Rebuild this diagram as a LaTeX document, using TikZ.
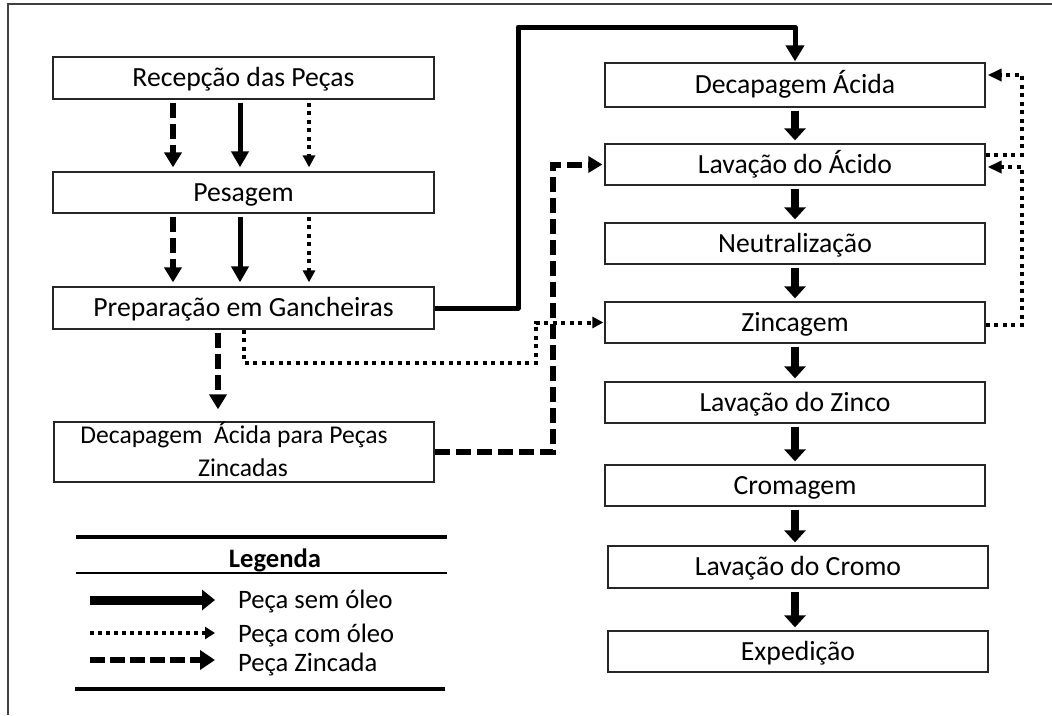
\documentclass[tikz,border=0pt]{standalone}
\usepackage{fontspec}
\setmainfont{Carlito}
\usetikzlibrary{arrows.meta,calc}
\begin{document}
\begin{tikzpicture}[x=1pt,y=-1pt,
  box/.style={draw=black!85, line width=1.3pt, minimum width=380pt, minimum height=41pt,
    inner sep=0pt, font=\fontsize{27.7}{33}\selectfont, text height=17.8pt, text depth=0pt},
  txt/.style={inner sep=0pt, font=\fontsize{26.6}{32}\selectfont, text height=17.1pt, text depth=0pt},
  flow/.style={line width=8pt, -{Triangle[width=21pt,length=12pt]}, shorten <=3pt, shorten >=3pt},
  solidc/.style={line width=5pt, line join=round, -{Triangle[width=18pt,length=16pt]}},
  dashc/.style={line width=6pt, dash pattern=on 15pt off 6pt, -{Triangle[width=17pt,length=15pt]}},
  dotc/.style={line width=4pt, dash pattern=on 4pt off 4.5pt, -{Triangle[width=12pt,length=12pt]}},
  frameline/.style={draw=black!75, line width=1.6pt}
]
\useasboundingbox (0,0) rectangle (1052,715);

% frame
\coordinate (f1) at (1052,4);
\coordinate (f2) at (8,4);
\coordinate (f3) at (8,715);
\draw[frameline] (f1) -- (f2) -- (f3);

% left column boxes
\node[box, minimum width=381pt, minimum height=42pt] (rec) at (243.5,78) {Recepção das Peças};
\node[box, minimum width=381pt] (pes) at (243.5,192.5) {Pesagem};
\node[box, minimum width=381pt, minimum height=42pt] (prep) at (243.5,308) {Preparação em Gancheiras};
\node[box, minimum width=380pt, minimum height=60pt] (dz) at (244,452) {};
\node[inner sep=0pt, anchor=base, font=\fontsize{25.6}{30}\selectfont] (dzt1) at (234,443) {Decapagem\ \ Ácida para Peças};
\node[inner sep=0pt, anchor=base, font=\fontsize{25.6}{30}\selectfont] (dzt2) at (243,476) {Zincadas};

% right column boxes
\node[box, minimum height=44pt] (da) at (795,85) {Decapagem Ácida};
\node[box] (la) at (795,164.5) {Lavação do Ácido};
\node[box] (neu) at (795,243.5) {Neutralização};
\node[box] (zin) at (795,322.5) {Zincagem};
\node[box] (lz) at (795,402.5) {Lavação do Zinco};
\node[box] (cro) at (795,485.5) {Cromagem};
\node[box, minimum height=42pt] (lc) at (798,567) {Lavação do Cromo};
\node[box] (exp) at (798,651.5) {Expedição};

% right column flow
\coordinate (ax) at (795,0);
\foreach \a/\b in {da/la, la/neu, neu/zin, zin/lz, lz/cro, cro/lc, lc/exp}
  \draw[flow] (\a.south -| ax) -- (\b.north -| ax);

% left column arrows
\foreach \s/\t in {rec/pes, pes/prep} {
  \draw[dashc, shorten <=3pt, shorten >=4pt] ([xshift=-70.5pt]\s.south) -- ([xshift=-70.5pt]\t.north);
  \draw[solidc, line width=5pt, -{Triangle[width=17pt,length=16pt]}, shorten <=3pt, shorten >=4pt] ([xshift=-3.5pt]\s.south) -- ([xshift=-3.5pt]\t.north);
  \draw[dotc, shorten <=3pt, shorten >=4pt] ([xshift=65.5pt]\s.south) -- ([xshift=65.5pt]\t.north);
}

% preparation -> zincadas box (dashed)
\draw[dashc, shorten <=3pt, shorten >=12pt] ([xshift=-25.5pt]prep.south) -- ([xshift=-26pt]dz.north);

% solid main connector
\coordinate (s1) at (518,27);
\draw[solidc, shorten >=1pt] (prep.east) -| (s1) -| (da.north);

% dashed zincadas -> lavacao do acido
\coordinate (d1) at (553,164.5);
\draw[dashc, -{Triangle[width=16pt,length=14pt]}, shorten >=2pt] (dz.east) -| (d1) -- (la.west);

% dotted preparation -> zincagem
\coordinate (o0) at (244,363);
\coordinate (o1) at (536,363);
\draw[dotc, -{Triangle[width=11pt,length=11pt]}, shorten >=1pt] ([xshift=0.5pt]prep.south) -- (o0) -- (o1) |- (zin.west);

% right dotted returns
\coordinate (r1) at (1022,75);
\coordinate (r2) at (1022,167);
\draw[dotc, -{Triangle[width=12pt,length=14pt]}, shorten >=2pt] ([yshift=10pt]la.east) -| (r1) -- ([yshift=10pt]da.east);
\draw[dotc, -{Triangle[width=12pt,length=14pt]}, shorten >=2pt] ([yshift=-2.5pt]zin.east) -| (r2) -- ([yshift=-2.5pt]la.east);

% legend
\coordinate (lg1a) at (76,537);
\coordinate (lg1b) at (447,537);
\coordinate (lg2a) at (76,573);
\coordinate (lg2b) at (447,573);
\coordinate (lg3a) at (75,689);
\coordinate (lg3b) at (445,689);
\draw[line width=4pt] (lg1a) -- (lg1b);
\draw[line width=1.7pt] (lg2a) -- (lg2b);
\draw[line width=4pt] (lg3a) -- (lg3b);
\node[txt, font=\fontsize{26.6}{32}\selectfont\bfseries] (leg) at (275,559) {Legenda};

\coordinate (a1s) at (90,600);  \coordinate (a1e) at (215,600);
\coordinate (a2s) at (90,633);  \coordinate (a2e) at (215,633);
\coordinate (a3s) at (90,660);  \coordinate (a3e) at (215,660);
\draw[line width=9pt, -{Triangle[width=20pt,length=13pt]}] (a1s) -- (a1e);
\draw[line width=3.5pt, dash pattern=on 4pt off 4pt, -{Triangle[width=12pt,length=10pt]}] (a2s) -- (a2e);
\draw[line width=6pt, dash pattern=on 15pt off 5pt, -{Triangle[width=19pt,length=15pt]}] (a3s) -- (a3e);
\node[txt, anchor=west] (t1) at (238,600) {Peça sem óleo};
\node[txt, anchor=west] (t2) at (238,634) {Peça com óleo};
\node[txt, anchor=west] (t3) at (238,663) {Peça Zincada};
\end{tikzpicture}
\end{document}
